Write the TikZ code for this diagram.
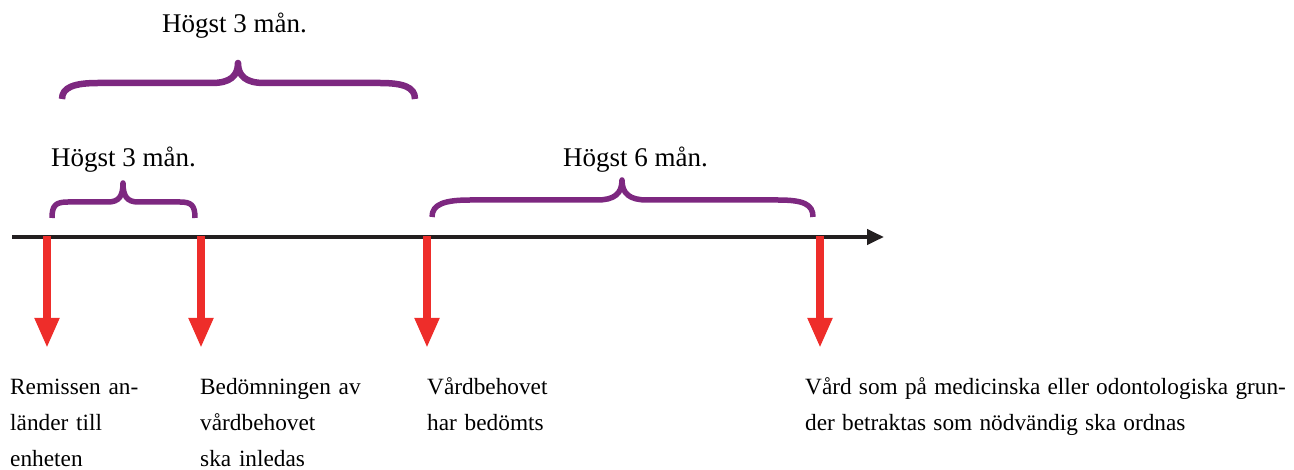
\documentclass[tikz,border=0pt]{standalone}
\usepackage{fontspec}
\setmainfont{Liberation Serif}
\usetikzlibrary{arrows.meta}
\definecolor{axisblack}{RGB}{35,31,32}
\definecolor{arrred}{RGB}{238,45,42}
\definecolor{bracepurple}{RGB}{125,40,128}
\begin{document}
\begin{tikzpicture}[x=1pt,y=-1pt,
  spanlabel/.style={anchor=base west,inner sep=0pt,font=\fontsize{27}{32}\selectfont},
  eventlabel/.style={anchor=base west,inner sep=0pt,align=left,font=\fontsize{23.3}{36}\selectfont},
  timeaxis/.style={draw=axisblack,line width=4pt,-{Triangle[length=17pt,width=15pt]}},
  eventarrow/.style={draw=arrred,line width=8pt,-{Triangle[length=30pt,width=23pt]}},
  bracestyle/.style={draw=bracepurple,line width=5.5pt,line cap=butt,line join=round}]
\useasboundingbox (0,0) rectangle (1294,470);

% axis
\coordinate (axL) at (12,237);
\coordinate (axR) at (884,237);
\draw[timeaxis] (axL) -- (axR);

% event arrows
\foreach \n/\x in {a/47,b/201,c/427,d/820}{
  \coordinate (\n top) at (\x,236);
  \coordinate (\n bot) at (\x,348);
  \draw[eventarrow] (\n top) -- (\n bot);
}

% braces
% small left brace
\draw[bracestyle] (52,218) .. controls (52,205) and (56,202) .. (68,202)
  -- (108,202) .. controls (119,202) and (123,196) .. (123,183)
  .. controls (123,196) and (127,202) .. (138,202)
  -- (180,202) .. controls (191,202) and (195,205) .. (195,218);
% right brace
\draw[bracestyle] (432,217) .. controls (432,204) and (445,200) .. (470,200)
  -- (597,200) .. controls (614,200) and (622,194) .. (622,180)
  .. controls (622,194) and (630,200) .. (647,200)
  -- (778,200) .. controls (803,200) and (813,204) .. (813,217);
% top brace
\draw[bracestyle,line width=6.5pt] (62,99) .. controls (62,87) and (75,83) .. (98,83)
  -- (212,83) .. controls (230,83) and (238,76) .. (238,63)
  .. controls (238,76) and (246,83) .. (264,83)
  -- (380,83) .. controls (403,83) and (415,87) .. (415,99);

% span labels
\node[spanlabel] (lt) at (162,33) {Högst 3 mån.};
\node[spanlabel] (ll) at (51,167) {Högst 3 mån.};
\node[spanlabel] (lr) at (563,167) {Högst 6 mån.};

% event labels
\node[eventlabel,text width=150pt] (ea) at (10,395) {Remissen an-\\länder till\\enheten};
\node[eventlabel,text width=190pt] (eb) at (200,395) {Bedömningen av\\vårdbehovet\\ska inledas};
\node[eventlabel,text width=170pt] (ec) at (427,395) {Vårdbehovet\\har bedömts};
\node[eventlabel,text width=560pt] (ed) at (805,395) {\spaceskip=0.31em\relax Vård som på medicinska eller odontologiska grun-\\der betraktas som nödvändig ska ordnas};
\end{tikzpicture}
\end{document}
